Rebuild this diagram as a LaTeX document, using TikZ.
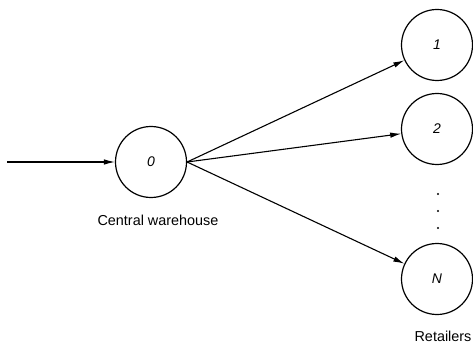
\documentclass[tikz,border=0pt]{standalone}
\usepackage{fontspec}
\setmainfont{Liberation Sans}
\usetikzlibrary{arrows.meta}
\begin{document}
\begin{tikzpicture}[x=1pt,y=-1pt,
  stock/.style={circle,draw,line width=1.2pt,minimum size=71pt,inner sep=0pt,font=\fontsize{14}{16}\selectfont\itshape},
  flow/.style={line width=1.1pt,-{Latex[length=11pt,width=5.5pt]}},
  lbl/.style={font=\fontsize{14.4}{16}\selectfont},
  dotnode/.style={circle,fill,inner sep=0pt,minimum size=2.4pt}]
\useasboundingbox (0,0) rectangle (473,347);
\node[stock] (w) at (151,162) {0};
\node[stock] (r1) at (437,45) {1};
\node[stock] (r2) at (437,129) {2};
\node[stock] (rN) at (437,279) {N};
\coordinate (in) at (7,162);
\node[dotnode] (d1) at (438,194) {};
\node[dotnode] (d2) at (438,211) {};
\node[dotnode] (d3) at (438,228) {};
\node[lbl] (cw) at (158,220) {Central warehouse};
\node[lbl] (rt) at (443,336) {Retailers};
\draw[flow] (in) -- (w);
\draw[flow] (w.east) -- (r1);
\draw[flow] (w.east) -- (r2);
\draw[flow] (w.east) -- (rN);
\end{tikzpicture}
\end{document}
